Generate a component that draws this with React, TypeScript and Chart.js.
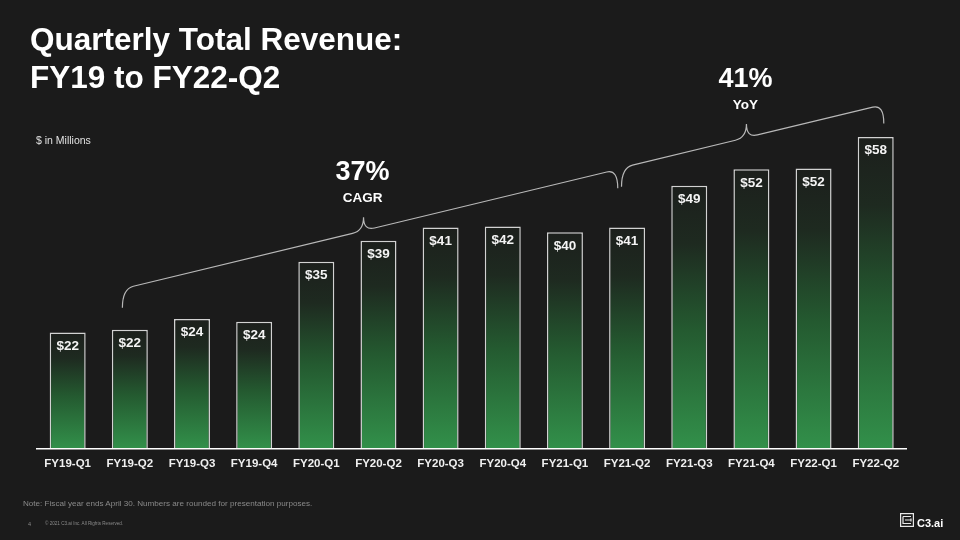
import React, { useEffect, useRef } from "react";
import { Chart, registerables } from "chart.js";

Chart.register(...registerables);

const categories = [
  "FY19-Q1", "FY19-Q2", "FY19-Q3", "FY19-Q4",
  "FY20-Q1", "FY20-Q2", "FY20-Q3", "FY20-Q4",
  "FY21-Q1", "FY21-Q2", "FY21-Q3", "FY21-Q4",
  "FY22-Q1", "FY22-Q2",
];
const revenue = [21.6, 22.1, 24.1, 23.6, 34.8, 38.7, 41.2, 41.4, 40.3, 41.2, 49.0, 52.05, 52.2, 58.1];
const valueLabels = ["$22", "$22", "$24", "$24", "$35", "$39", "$41", "$42", "$40", "$41", "$49", "$52", "$52", "$58"];

// Brace annotations: [startIndex, startValue], [endIndex, endValue], tipIndex, big text, small text
const braceStarts = [[0.88, 26.2], [8.91, 48.8]];
const braceEnds = [[8.85, 48.5], [13.13, 60.6]];
const braceTips = [4.76, 10.92];
const braceBig = ["37%", "41%"];
const braceSmall = ["CAGR", "YoY"];

const FONT = '"Liberation Sans", Arial, Helvetica, sans-serif';

const annotationPlugin = {
  id: "annotations",
  afterDatasetsDraw(chart: any) {
    const { ctx, scales } = chart;
    const x = scales.x;
    const y = scales.y;
    const meta = chart.getDatasetMeta(0);
    ctx.save();
    // value labels
    ctx.fillStyle = "#f4f4f4";
    ctx.font = `bold 13.5px ${FONT}`;
    ctx.textAlign = "center";
    ctx.textBaseline = "middle";
    meta.data.forEach((bar: any, i: number) => {
      ctx.fillText(valueLabels[i], bar.x, bar.y + 13.5);
    });

    // braces
    const h = 19, r = 11, t = 13.5;
    braceStarts.forEach((s, k) => {
      const e = braceEnds[k];
      const x1 = x.getPixelForValue(s[0]);
      const y1 = y.getPixelForValue(s[1]);
      const x2 = x.getPixelForValue(e[0]);
      const y2 = y.getPixelForValue(e[1]);
      const xt = x.getPixelForValue(braceTips[k]);
      const L = (px: number) => (y1 - h) + ((y2 - h) - (y1 - h)) * (px - x1) / (x2 - x1);
      ctx.beginPath();
      ctx.strokeStyle = "#b8b8b8";
      ctx.lineWidth = 1.2;
      ctx.moveTo(x1, y1);
      ctx.quadraticCurveTo(x1, L(x1), x1 + r, L(x1 + r));
      ctx.lineTo(xt - r, L(xt - r));
      ctx.quadraticCurveTo(xt, L(xt), xt, L(xt) - t);
      ctx.quadraticCurveTo(xt, L(xt), xt + r, L(xt + r));
      ctx.lineTo(x2 - r, L(x2 - r));
      ctx.quadraticCurveTo(x2, L(x2), x2, y2);
      ctx.stroke();

      const tipY = L(xt) - t;
      ctx.fillStyle = "#ffffff";
      ctx.font = `bold 27px ${FONT}`;
      ctx.fillText(braceBig[k], xt - 1, tipY - 45);
      ctx.font = `bold 13.5px ${FONT}`;
      ctx.fillText(braceSmall[k], xt - 1, tipY - 19);
    });
    ctx.restore();
  },
};

export default function App() {
  const canvasRef = useRef<HTMLCanvasElement | null>(null);

  useEffect(() => {
    document.body.style.margin = "0";
    const canvas = canvasRef.current!;
    const chart = new Chart(canvas, {
      type: "bar",
      data: {
        labels: categories,
        datasets: [
          {
            data: revenue,
            borderColor: "#d2d2d2",
            borderWidth: 1.5,
            barPercentage: 0.579,
            categoryPercentage: 1,
            backgroundColor: (c: any) => {
              const ch = c.chart;
              const ys = ch.scales?.y;
              if (!ys || c.raw == null) return "#2f8a45";
              const top = ys.getPixelForValue(c.raw);
              const bottom = ys.getPixelForValue(0);
              if (!isFinite(top) || !isFinite(bottom)) return "#2f8a45";
              const g = ch.ctx.createLinearGradient(0, top, 0, bottom);
              g.addColorStop(0, "#1c1f1c");
              g.addColorStop(0.22, "#1e2a20");
              g.addColorStop(0.55, "#245a30");
              g.addColorStop(1, "#32904a");
              return g;
            },
          },
        ],
      },
      options: {
        responsive: false,
        animation: false,
        events: [],
        layout: { padding: { left: 36.6, right: 53.2, top: 73.1, bottom: 0 } },
        plugins: { legend: { display: false }, tooltip: { enabled: false } },
        scales: {
          x: {
            grid: { display: false, drawTicks: false },
            border: { display: true, color: "#ffffff", width: 1.5 },
            ticks: {
              color: "#f0f0f0",
              font: { family: FONT, size: 11.5, weight: "bold" },
              padding: 8.5,
              maxRotation: 0,
              autoSkip: false,
            },
            afterFit: (scale: any) => {
              scale.height = 540 - 448.3;
            },
          },
          y: {
            display: false,
            min: 0,
            max: 70,
          },
        },
      },
      plugins: [annotationPlugin],
    });
    return () => chart.destroy();
  }, []);

  const base: React.CSSProperties = { position: "absolute", fontFamily: FONT, whiteSpace: "nowrap" };

  return (
    <div style={{ position: "fixed", left: 0, top: 0, width: 960, height: 540, background: "#1b1b1b", overflow: "hidden" }}>
      <canvas ref={canvasRef} width={960} height={540} style={{ position: "absolute", left: 0, top: 0, width: 960, height: 540 }} />
      <div style={{ ...base, left: 30, top: 21, color: "#ffffff", fontWeight: "bold", fontSize: 31.5, lineHeight: "37.6px" }}>
        Quarterly Total Revenue:
        <br />
        FY19 to FY22-Q2
      </div>
      <div style={{ ...base, left: 36, top: 133, color: "#e0e0e0", fontSize: 10.5, lineHeight: "14px" }}>$ in Millions</div>
      <div style={{ ...base, left: 23, top: 499, color: "#8a8a8a", fontSize: 8.1, lineHeight: "10px" }}>
        Note: Fiscal year ends April 30. Numbers are rounded for presentation purposes.
      </div>
      <div style={{ ...base, left: 28, top: 521, color: "#8a8a8a", fontSize: 5.5, lineHeight: "6px" }}>4</div>
      <div style={{ ...base, left: 45, top: 521, color: "#8a8a8a", fontSize: 4.6, lineHeight: "6px" }}>
        © 2021 C3.ai Inc. All Rights Reserved.
      </div>
      <svg style={{ position: "absolute", left: 900, top: 513 }} width={14} height={14} viewBox="0 0 14 14">
        <rect x={0.6} y={0.6} width={12.8} height={12.8} fill="none" stroke="#e8e8e8" strokeWidth={1.2} />
        <path d="M3 3.5 H11 M3 3.5 V10.5 H11 M5 7 H11 M11 5.5 V8.5" fill="none" stroke="#e8e8e8" strokeWidth={1.2} />
      </svg>
      <div style={{ ...base, left: 917, top: 516, color: "#ffffff", fontWeight: "bold", fontSize: 11, lineHeight: "14px" }}>C3.ai</div>
    </div>
  );
}
